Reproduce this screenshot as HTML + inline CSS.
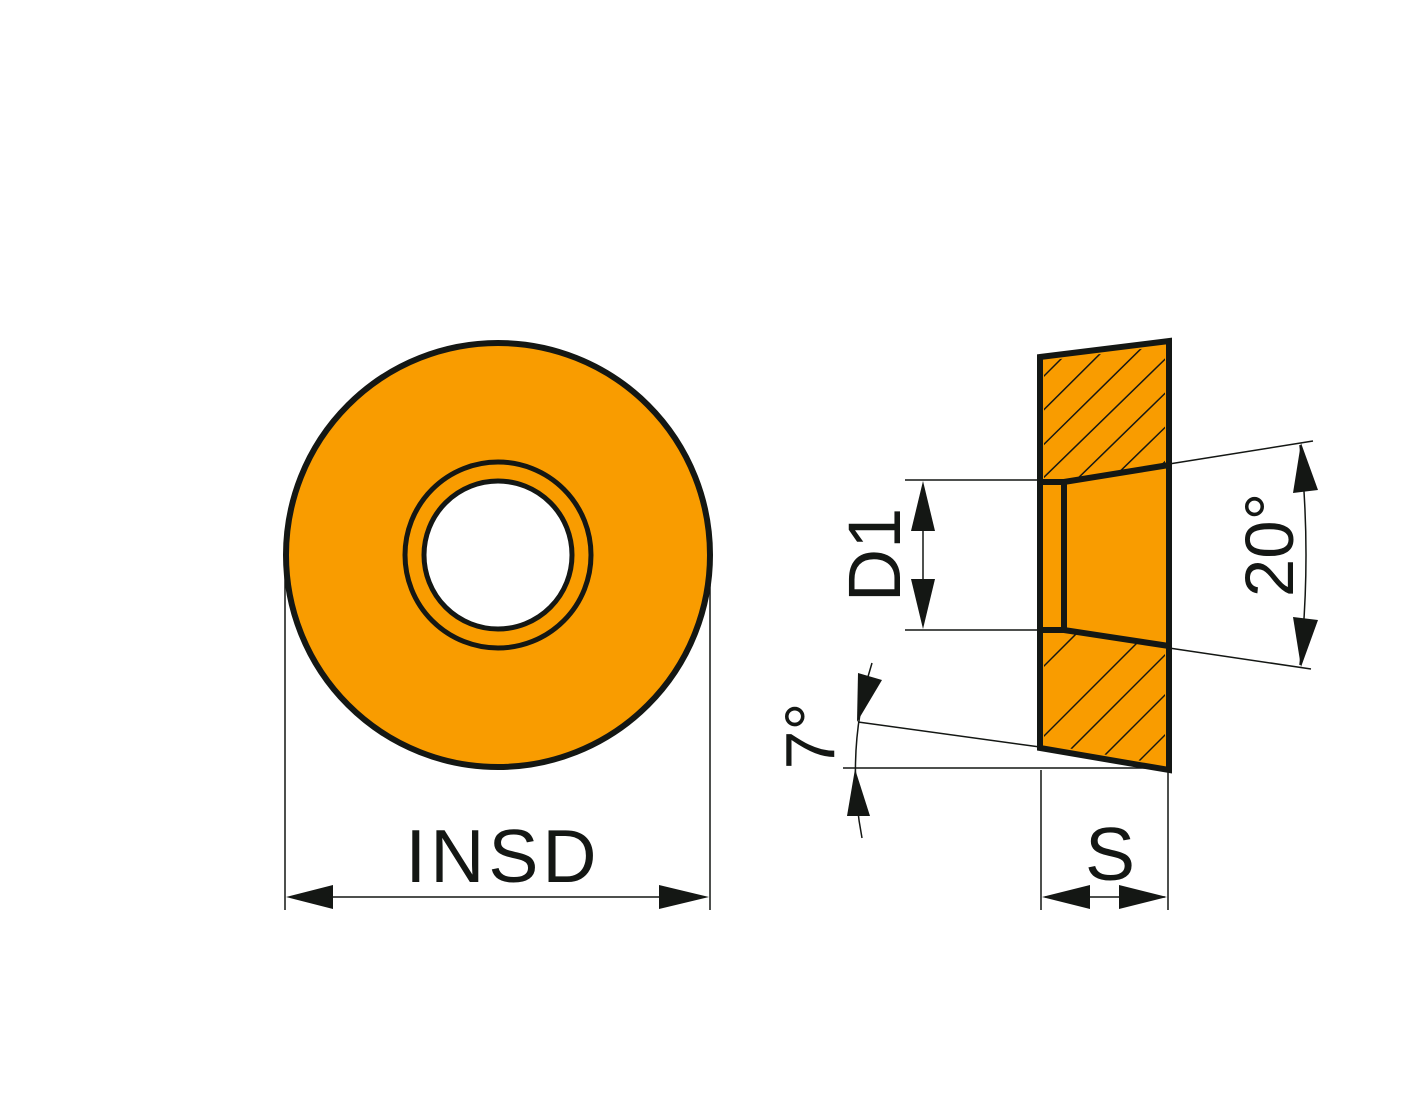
<!DOCTYPE html>
<html><head><style>html,body{margin:0;padding:0;background:#fff}svg{display:block}</style></head>
<body>
<svg width="1417" height="1110" viewBox="0 0 1417 1110" xmlns="http://www.w3.org/2000/svg" font-family="Liberation Sans, sans-serif">
<defs>
<clipPath id="upper"><polygon points="1044,361 1165,346 1165,464 1064,480 1044,480"/></clipPath>
<clipPath id="lower"><polygon points="1044,632 1064,632 1165,647 1165,765 1044,744"/></clipPath>
</defs>
<circle cx="498" cy="555" r="212" fill="#f99c00" stroke="#141714" stroke-width="6"/>
<circle cx="498" cy="555" r="93" fill="#f99c00" stroke="#141714" stroke-width="5"/>
<circle cx="498" cy="555" r="74" fill="#fff" stroke="#141714" stroke-width="5"/>
<g stroke="#141714" stroke-width="1.5" fill="none">
<line x1="285" y1="575" x2="285" y2="910"/>
<line x1="710" y1="585" x2="710" y2="910"/>
<line x1="290" y1="897" x2="705" y2="897"/>
</g>
<polygon points="286,897 333,885 333,909" fill="#141714"/>
<polygon points="709,897 659,885 659,909" fill="#141714"/>
<text x="503" y="882" font-size="75" text-anchor="middle" letter-spacing="4" fill="#141714">INSD</text>
<polygon points="1040,357 1169,341 1169,770 1040,748" fill="#f99c00"/>
<g clip-path="url(#upper)" stroke="#141714" stroke-width="1.5">
<line x1="900" y1="520" x2="1090" y2="330"/>
<line x1="930" y1="523" x2="1124" y2="330"/>
<line x1="962" y1="525" x2="1160" y2="330"/>
<line x1="995" y1="525" x2="1195" y2="330"/>
<line x1="1030" y1="525" x2="1230" y2="330"/>
<line x1="1065" y1="525" x2="1265" y2="330"/>
<line x1="1100" y1="525" x2="1300" y2="330"/>
</g>
<g clip-path="url(#lower)" stroke="#141714" stroke-width="1.5">
<line x1="1000" y1="710" x2="1130" y2="580"/>
<line x1="1000" y1="780" x2="1180" y2="600"/>
<line x1="1050" y1="770" x2="1220" y2="600"/>
<line x1="1090" y1="770" x2="1260" y2="600"/>
<line x1="1130" y1="770" x2="1300" y2="600"/>
</g>
<g stroke="#141714" stroke-width="6" fill="none" stroke-linejoin="miter">
<polygon points="1040,357 1169,341 1169,770 1040,748"/>
<polyline points="1040,482 1064,482 1169,465"/>
<polyline points="1040,630 1064,630 1169,646"/>
<line x1="1064" y1="482" x2="1064" y2="630"/>
</g>
<g stroke="#141714" stroke-width="1.5" fill="none">
<line x1="905" y1="480" x2="1040" y2="480"/>
<line x1="905" y1="630" x2="1040" y2="630"/>
<line x1="923" y1="520" x2="923" y2="590"/>
<line x1="1169" y1="464" x2="1313" y2="441"/>
<line x1="1169" y1="648" x2="1311" y2="669"/>
<path d="M1300,445 Q1312,555 1300,665"/>
<line x1="858" y1="722" x2="1040" y2="747"/>
<line x1="843" y1="768" x2="1165" y2="768"/>
<path d="M872,663 Q845,750 862,838"/>
<line x1="1041" y1="770" x2="1041" y2="910"/>
<line x1="1168" y1="770" x2="1168" y2="910"/>
<line x1="1045" y1="897" x2="1165" y2="897"/>
</g>
<g fill="#141714">
<polygon points="923,481 911,531 935,531"/>
<polygon points="923,629 911,579 935,579"/>
<polygon points="1301,443 1293,493 1318,490"/>
<polygon points="1301,667 1293,617 1318,620"/>
<polygon points="857,722 858,673 882,680"/>
<polygon points="855,769 847,816 870,816"/>
<polygon points="1042,897 1090,885 1090,909"/>
<polygon points="1167,897 1119,885 1119,909"/>
</g>
<text x="0" y="0" font-size="74" text-anchor="middle" fill="#141714" transform="translate(900,555) rotate(-90)">D1</text>
<text x="0" y="0" font-size="69" text-anchor="middle" fill="#141714" transform="translate(1293,545) rotate(-90)">20°</text>
<text x="0" y="0" font-size="70" text-anchor="middle" fill="#141714" transform="translate(834,736) rotate(-90)">7°</text>
<text x="1110" y="880" font-size="75" text-anchor="middle" fill="#141714">S</text>
</svg>
</body></html>
